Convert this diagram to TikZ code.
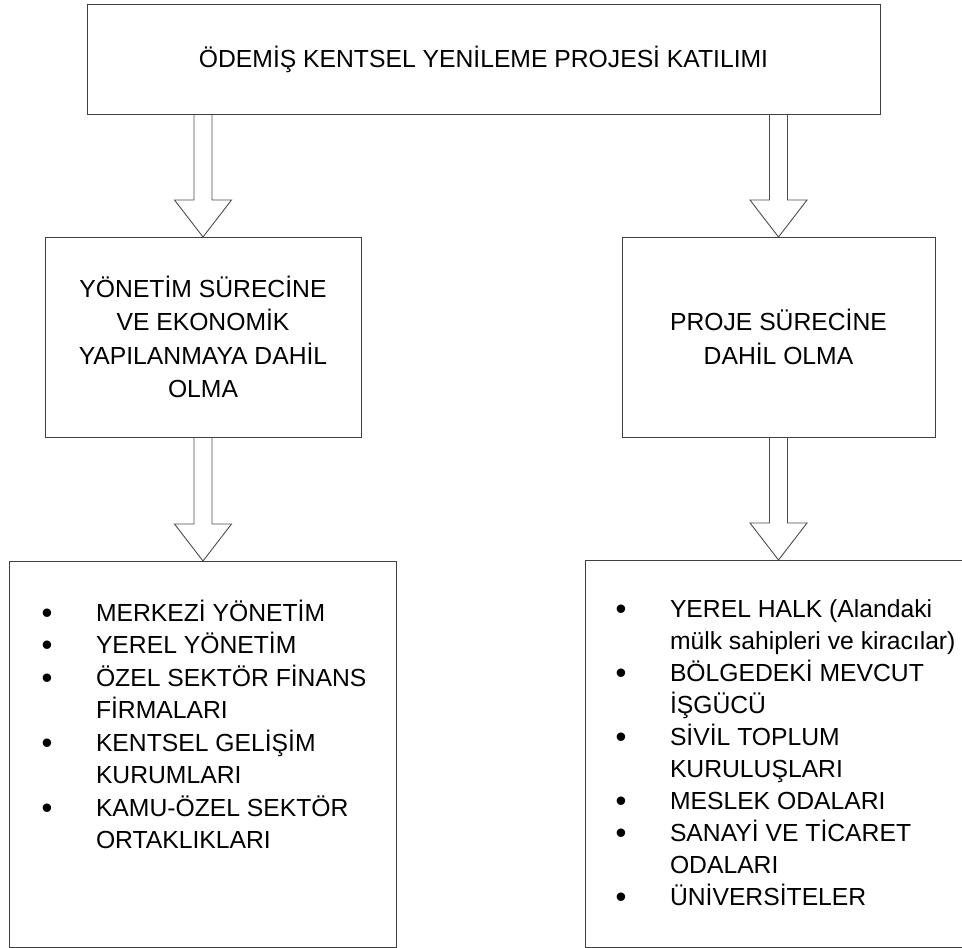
\documentclass[tikz,border=0pt]{standalone}
\usepackage{fontspec}
\setmainfont{Liberation Sans}
\usetikzlibrary{calc}
\newcommand\blkarrow[2]{\draw[blk] ($(#1)+(-9,0)$) -- ($(#2)+(-9,-37)$) -- ($(#2)+(-28.5,-37)$) -- (#2) -- ($(#2)+(28.5,-37)$) -- ($(#2)+(9,-37)$) -- ($(#1)+(9,0)$);}
\newcommand\bul{\raisebox{-2.4pt}{\fontsize{31}{31}\selectfont •}}
\begin{document}
\begin{tikzpicture}[x=1pt,y=-1pt,
  box/.style={draw=black!75, line width=1pt, anchor=north west, inner sep=0pt, outer sep=0pt,
    align=center, font=\fontsize{24.7}{33.3}\selectfont},
  blk/.style={draw=black!70, line width=0.9pt, line join=miter},
  lst/.style={anchor=north west, inner sep=0pt, outer sep=0pt}]
\useasboundingbox (0,0) rectangle (962,948);
% boxes
\node[box, minimum width=793pt, minimum height=110pt] (top) at (87,4) {ÖDEMİŞ KENTSEL YENİLEME PROJESİ KATILIMI};
\node[box, minimum width=316pt, minimum height=200pt] (m1) at (45,237) {YÖNETİM SÜRECİNE\\VE EKONOMİK\\YAPILANMAYA DAHİL\\OLMA};
\node[box, minimum width=313pt, minimum height=200pt] (m2) at (622,237) {PROJE SÜRECİNE\\DAHİL OLMA};
\node[box, minimum width=387pt, minimum height=386pt] (b1) at (9,561) {};
\node[box, minimum width=381pt, minimum height=387pt] (b2) at (585,560) {};
% lists
\node[lst, font=\fontsize{24.7}{32.5}\selectfont] (l1) at (41.6,598.25) {%
\begin{tabular}{@{}p{54.4pt}@{}l@{}}
\bul & MERKEZİ YÖNETİM\\
\bul & YEREL YÖNETİM\\
\bul & ÖZEL SEKTÖR FİNANS\\
  & FİRMALARI\\
\bul & KENTSEL GELİŞİM\\
  & KURUMLARI\\
\bul & KAMU-ÖZEL SEKTÖR\\
  & ORTAKLIKLARI
\end{tabular}};
\node[lst, font=\fontsize{24.7}{32}\selectfont] (l2) at (615.6,594.6) {%
\begin{tabular}{@{}p{54.4pt}@{}l@{}}
\bul & YEREL HALK (Alandaki\\
  & mülk sahipleri ve kiracılar)\\
\bul & BÖLGEDEKİ MEVCUT\\
  & İŞGÜCÜ\\
\bul & SİVİL TOPLUM\\
  & KURULUŞLARI\\
\bul & MESLEK ODALARI\\
\bul & SANAYİ VE TİCARET\\
  & ODALARI\\
\bul & ÜNİVERSİTELER
\end{tabular}};
% block arrows
\coordinate (s1) at (top.south -| m1.north);
\coordinate (s2) at (top.south -| m2.north);
\coordinate (t3) at (m1.south |- b1.north);
\coordinate (t4) at (m2.south |- b2.north);
\blkarrow{s1}{m1.north}
\blkarrow{s2}{m2.north}
\blkarrow{m1.south}{t3}
\blkarrow{m2.south}{t4}
\end{tikzpicture}
\end{document}
